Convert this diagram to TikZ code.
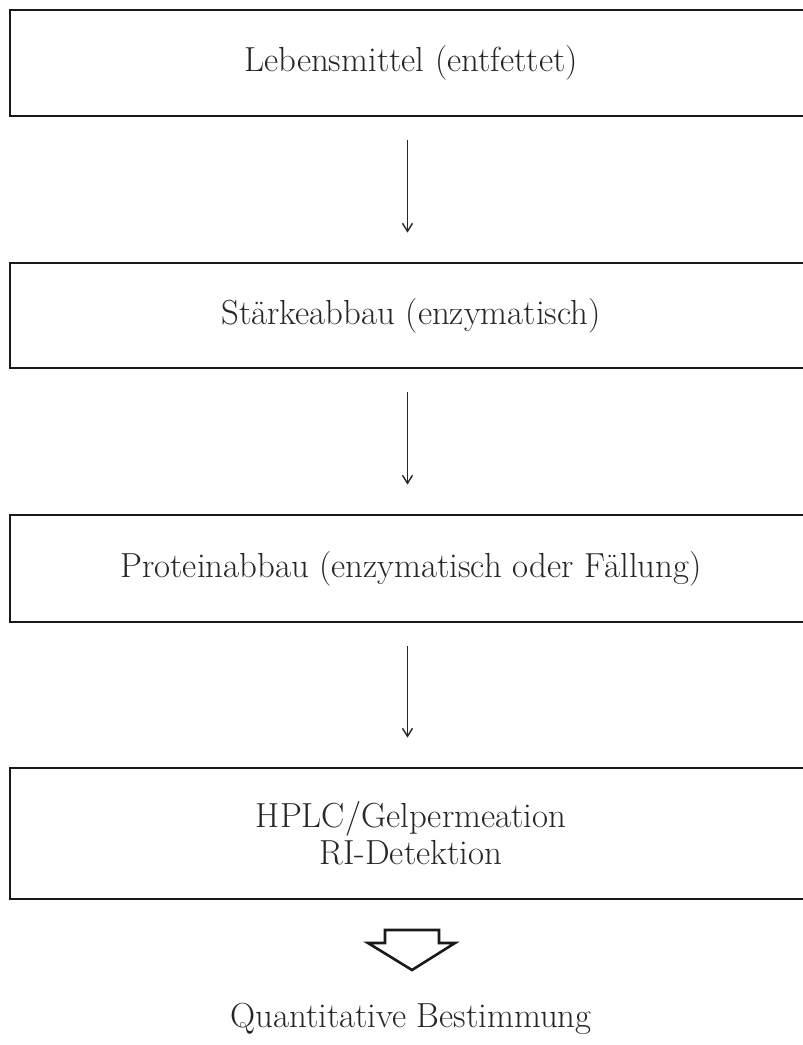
\documentclass[tikz,border=0pt]{standalone}
\usetikzlibrary{arrows.meta}
\begin{document}
\begin{tikzpicture}[x=0.5pt,y=-0.5pt,
  txt/.style={font=\fontsize{17.4}{18.5}\selectfont, align=center, text=black!85},
  stepbox/.style={txt, draw=black!90, line width=1.4pt, minimum width=401pt, inner sep=0pt},
  flow/.style={draw=black!85, line width=0.7pt, -{Straight Barb[length=4pt,width=5pt]},
    shorten <=11.5pt, shorten >=14.5pt},
  hollow/.style={draw=black!90, line width=1.3pt, line join=miter}]
\useasboundingbox (0,0) rectangle (803,1045);
\fill[white] (0,0) rectangle (803,1045);
\clip (0,0) rectangle (803,1045);
\node[stepbox, minimum height=53pt]   (b1) at (411,63)    {Lebensmittel (entfettet)};
\node[stepbox, minimum height=52.5pt] (b2) at (411,315.5) {Stärkeabbau (enzymatisch)};
\node[stepbox, minimum height=53.5pt] (b3) at (411,568.5) {Proteinabbau (enzymatisch oder Fällung)};
\node[stepbox, minimum height=65.5pt] (b4) at (411,833.5) {\raisebox{-2pt}{HPLC/Gelpermeation}\\\raisebox{-2pt}{RI-Detektion}};
\draw[flow] ([xshift=-1.75pt]b1.south) -- ([xshift=-1.75pt]b2.north);
\draw[flow] ([xshift=-1.75pt]b2.south) -- ([xshift=-1.75pt]b3.north);
\draw[flow] ([xshift=-1.75pt]b3.south) -- ([xshift=-1.75pt]b4.north);
\draw[hollow] (385,930) -- (439,930) -- (439,943) -- (455,943) -- (412,970)
  -- (368,943) -- (385,943) -- cycle;
\node[txt, anchor=base] (res) at (411,1027) {Quantitative Bestimmung};
\end{tikzpicture}
\end{document}
